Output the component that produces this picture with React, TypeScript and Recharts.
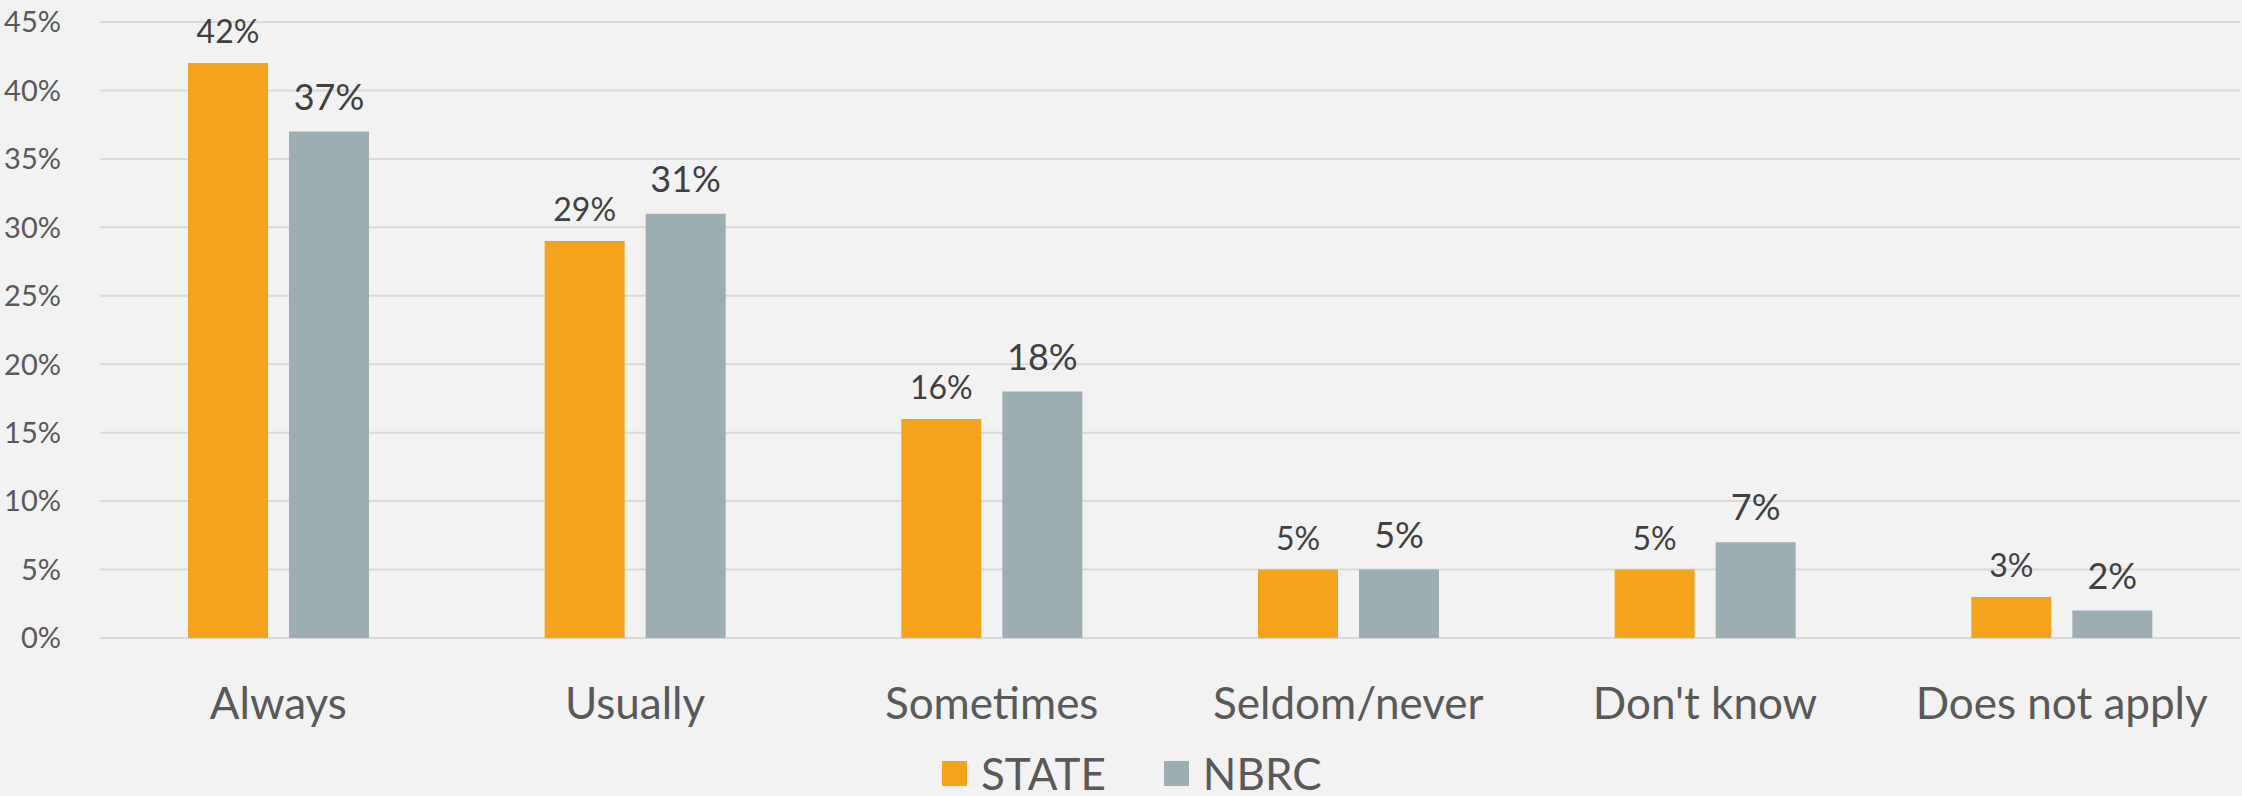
import React from "react";
import { BarChart, Bar, XAxis, YAxis, CartesianGrid, Legend, LabelList } from "recharts";

const categories = ["Always", "Usually", "Sometimes", "Seldom/never", "Don't know", "Does not apply"];
const stateValues = [42, 29, 16, 5, 5, 3];
const nbrcValues = [37, 31, 18, 5, 7, 2];
const yTicks = [0, 5, 10, 15, 20, 25, 30, 35, 40, 45];

const STATE_COLOR = "#F5A31D";
const NBRC_COLOR = "#9DAEB3";
const FONT = "Lato, 'DejaVu Sans', sans-serif";

const data = categories.map((name, i) => ({
  name,
  state: stateValues[i],
  nbrc: nbrcValues[i],
}));

const pct = (v: number | string) => `${v}%`;

function LegendContent() {
  const items = [
    { label: "STATE", color: STATE_COLOR },
    { label: "NBRC", color: NBRC_COLOR },
  ];
  return (
    <div
      style={{
        display: "flex",
        alignItems: "center",
        paddingLeft: 942,
        height: 46,
        fontFamily: FONT,
        fontSize: 44,
        lineHeight: "46px",
        color: "#595959",
      }}
    >
      {items.map((it, i) => (
        <div key={it.label} style={{ display: "flex", alignItems: "center", marginRight: i === 0 ? 58 : 0 }}>
          <span style={{ width: 25, height: 25, background: it.color, marginRight: 14, display: "inline-block" }} />
          <span>{it.label}</span>
        </div>
      ))}
    </div>
  );
}

export default function App() {
  return (
    <div style={{ position: "absolute", left: 0, top: 0, width: 2242, height: 796, background: "#f2f2f2", fontFamily: FONT }}>
      <BarChart
        width={2242}
        height={796}
        data={data}
        margin={{ top: 22, right: 2, left: 0, bottom: 0 }}
        barSize={80}
        barGap={21}
      >
        <CartesianGrid vertical={false} stroke="#d9d9d9" strokeWidth={2} />
        <XAxis
          dataKey="name"
          height={112}
          axisLine={false}
          tickLine={false}
          interval={0}
          tickMargin={44}
          tick={{ fontSize: 44, fill: "#595959", fontFamily: FONT }}
        />
        <YAxis
          width={100}
          domain={[0, 45]}
          ticks={yTicks}
          axisLine={false}
          tickLine={false}
          tickMargin={33}
          tickFormatter={pct}
          tick={{ fontSize: 29, fill: "#595959", fontFamily: FONT }}
        />
        <Legend verticalAlign="bottom" wrapperStyle={{ height: 46 }} content={<LegendContent />} />
        <Bar dataKey="state" name="STATE" fill={STATE_COLOR} isAnimationActive={false}>
          <LabelList dataKey="state" position="top" offset={20} formatter={pct} fill="#404040" fontSize={32} fontFamily={FONT} />
        </Bar>
        <Bar dataKey="nbrc" name="NBRC" fill={NBRC_COLOR} isAnimationActive={false}>
          <LabelList dataKey="nbrc" position="top" offset={22} formatter={pct} fill="#404040" fontSize={36} fontFamily={FONT} />
        </Bar>
      </BarChart>
    </div>
  );
}
